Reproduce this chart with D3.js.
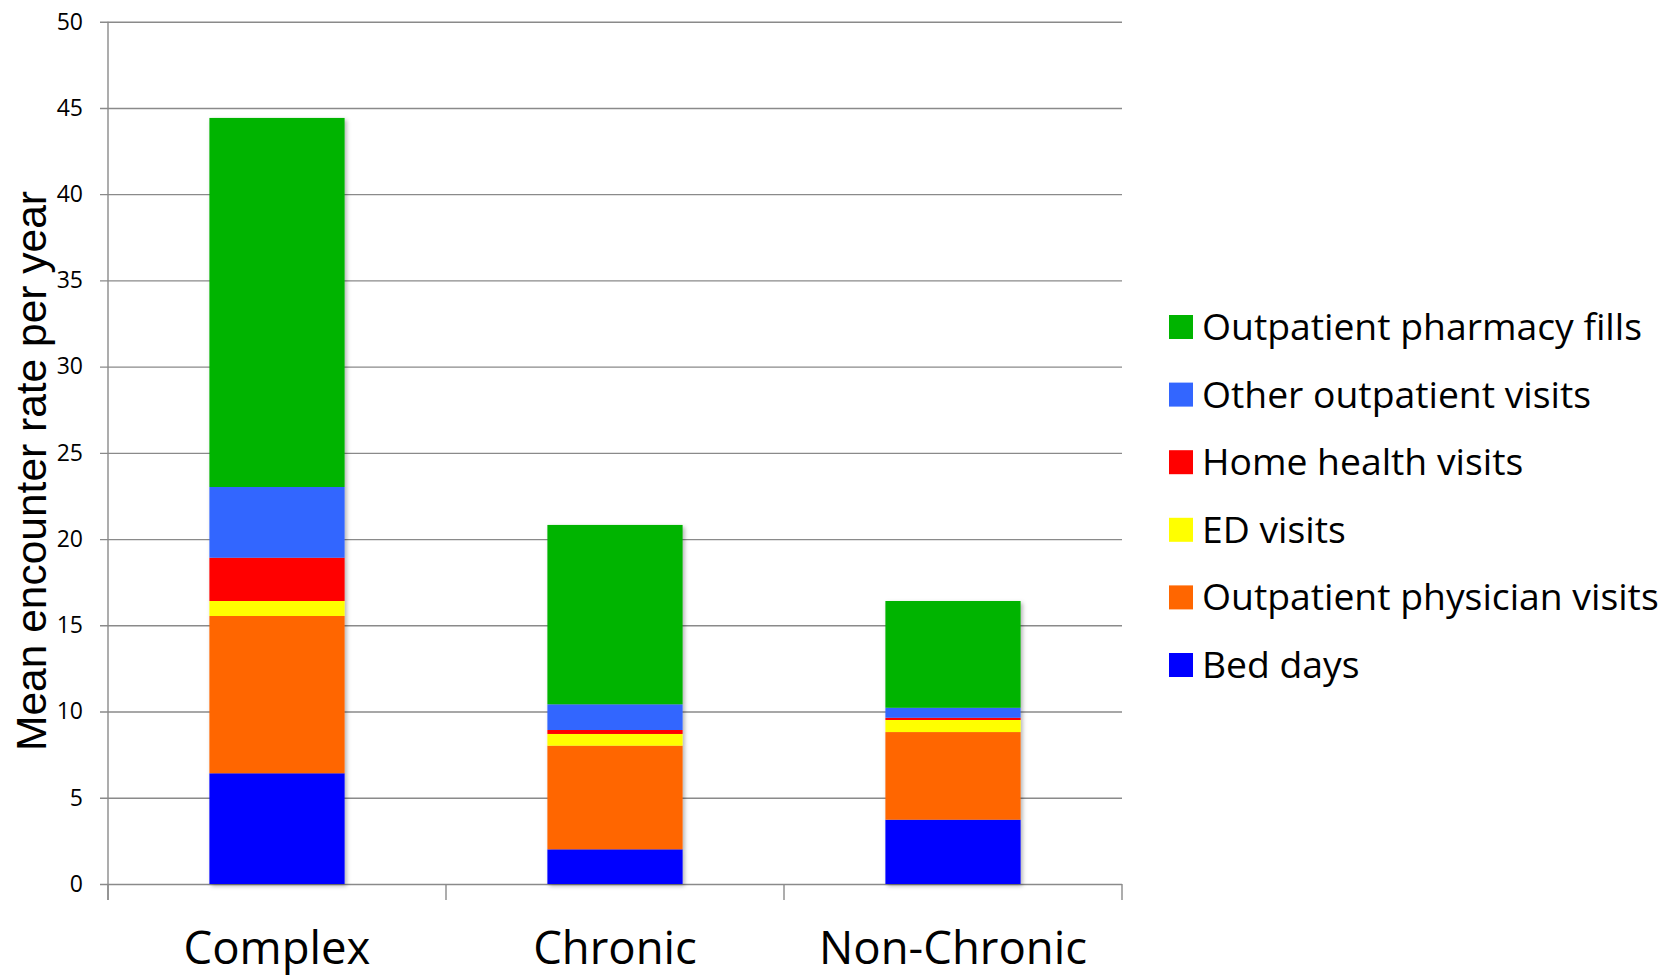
<!DOCTYPE html>
<html>
<head>
<meta charset="utf-8">
<script src="https://cdn.jsdelivr.net/npm/d3@7"></script>
<style>
  html, body { margin: 0; padding: 0; background: #fff; }
  svg { display: block; }
</style>
</head>
<body>
<svg id="chart" width="1664" height="977"></svg>
<script>
// Mean annual encounter rate by patient group, split by encounter type
const categories = ["Complex", "Chronic", "Non-Chronic"];

const bedDays            = [6.42, 2.01, 3.73];
const physicianVisits    = [9.12, 6.01, 5.08];
const edVisits           = [0.87, 0.68, 0.70];
const homeHealthVisits   = [2.51, 0.23, 0.13];
const otherOutpatient    = [4.10, 1.49, 0.58];
const pharmacyFills      = [21.40, 10.40, 6.19];

// stacking order, bottom to top
const seriesNames = [
  "Bed days",
  "Outpatient physician visits",
  "ED visits",
  "Home health visits",
  "Other outpatient visits",
  "Outpatient pharmacy fills"
];
const seriesValues = [bedDays, physicianVisits, edVisits, homeHealthVisits, otherOutpatient, pharmacyFills];
const seriesColors = ["#0000FF", "#FF6600", "#FFFF00", "#FF0000", "#3366FF", "#00B400"];

const yTicks = [0, 5, 10, 15, 20, 25, 30, 35, 40, 45, 50];
const yTitle = "Mean encounter rate per year";

// rows for d3.stack
const rows = categories.map((c, i) => {
  const r = { category: c };
  seriesNames.forEach((s, j) => { r[s] = seriesValues[j][i]; });
  return r;
});

const svg = d3.select("#chart");

const plotLeft = 108, plotRight = 1122, plotTop = 21.7, plotBottom = 884;

const x = d3.scaleBand()
  .domain(categories)
  .range([plotLeft, plotRight])
  .paddingInner(0.6)
  .paddingOuter(0.3);

const y = d3.scaleLinear().domain([0, 50]).range([plotBottom, plotTop]);

const color = d3.scaleOrdinal().domain(seriesNames).range(seriesColors);

// soft shadow under the bars
const defs = svg.append("defs");
const f = defs.append("filter").attr("id", "shadow")
  .attr("x", "-10%").attr("y", "-10%").attr("width", "130%").attr("height", "130%");
f.append("feDropShadow")
  .attr("dx", 2).attr("dy", 2).attr("stdDeviation", 2)
  .attr("flood-color", "#000").attr("flood-opacity", 0.3);

// gridlines and y tick labels
const yAxis = d3.axisLeft(y)
  .tickValues(yTicks)
  .tickSize(-(plotRight - 100))
  .tickPadding(17)
  .tickFormat(d3.format("d"));

const yg = svg.append("g")
  .attr("transform", "translate(100,0)")
  .call(yAxis);
yg.select(".domain").remove();
yg.selectAll(".tick line").attr("stroke", "#8a8a8a").attr("stroke-width", 1.4);
yg.selectAll(".tick text")
  .attr("fill", "#000")
  .style("font-family", "'Open Sans', sans-serif")
  .style("font-size", "23px");

// vertical axis line
svg.append("line")
  .attr("x1", plotLeft).attr("x2", plotLeft)
  .attr("y1", plotTop).attr("y2", plotBottom + 16)
  .attr("stroke", "#8a8a8a").attr("stroke-width", 1.4);

// category boundary ticks below the baseline
const boundaries = d3.range(categories.length + 1).map(i => plotLeft + i * x.step());
svg.append("g").selectAll("line")
  .data(boundaries)
  .join("line")
  .attr("x1", d => d).attr("x2", d => d)
  .attr("y1", plotBottom).attr("y2", plotBottom + 16)
  .attr("stroke", "#8a8a8a").attr("stroke-width", 1.4);

// stacked bars
const stacked = d3.stack().keys(seriesNames)(rows);

const barGroup = svg.append("g");
categories.forEach((c, i) => {
  const g = barGroup.append("g").attr("filter", "url(#shadow)");
  stacked.forEach(layer => {
    const d = layer[i];
    g.append("rect")
      .attr("x", x(c))
      .attr("width", x.bandwidth())
      .attr("y", y(d[1]))
      .attr("height", y(d[0]) - y(d[1]))
      .attr("fill", color(layer.key));
  });
});

// category labels
const xAxis = d3.axisBottom(x).tickSize(0).tickPadding(0);
const xg = svg.append("g")
  .attr("transform", `translate(0,${plotBottom})`)
  .call(xAxis);
xg.select(".domain").remove();
xg.selectAll(".tick text")
  .attr("y", 80)
  .attr("dy", 0)
  .attr("fill", "#000")
  .style("font-family", "'Open Sans', sans-serif")
  .style("font-size", "45.5px");

// y axis title
svg.append("text")
  .attr("transform", "translate(46,471) rotate(-90)")
  .attr("text-anchor", "middle")
  .attr("fill", "#000")
  .style("font-family", "'Liberation Sans', Arial, sans-serif")
  .style("font-size", "42.5px")
  .text(yTitle);

// legend, top entry is the top of the stack
const legendItems = seriesNames.slice().reverse();
const legend = svg.append("g").attr("transform", "translate(1169,327)");
const rowGap = 67.6;
legendItems.forEach((name, i) => {
  const row = legend.append("g").attr("transform", `translate(0,${i * rowGap})`);
  row.append("rect")
    .attr("x", 0).attr("y", -12)
    .attr("width", 24).attr("height", 24)
    .attr("fill", color(name));
  row.append("text")
    .attr("x", 33).attr("y", 13)
    .attr("fill", "#000")
    .style("font-family", "'Open Sans', sans-serif")
    .style("font-size", "37.3px")
    .text(name);
});
</script>
</body>
</html>
